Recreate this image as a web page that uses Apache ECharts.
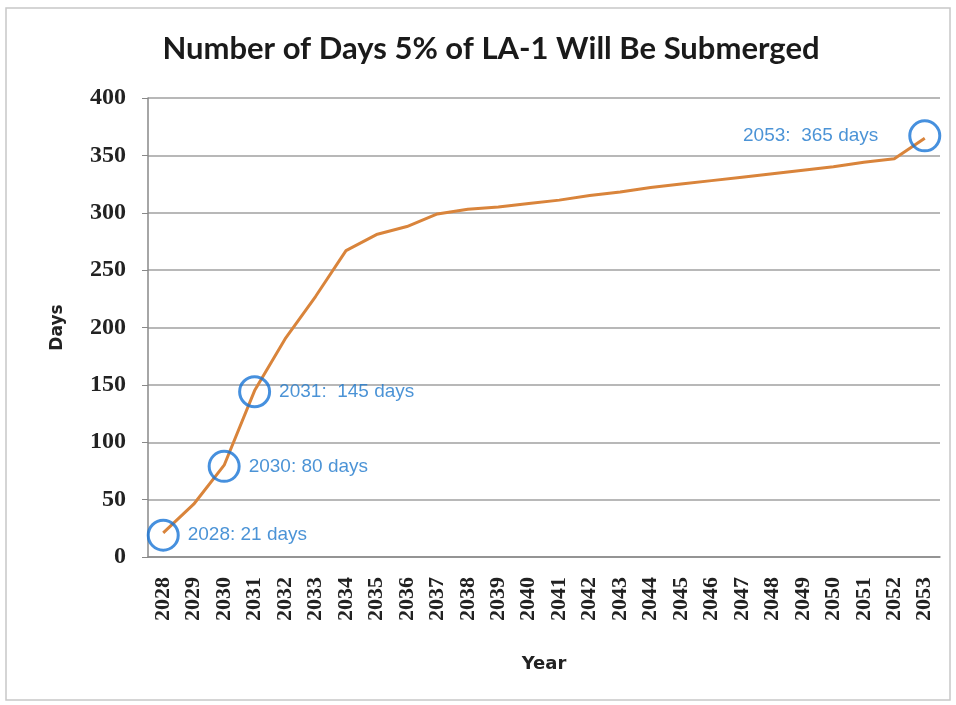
<!DOCTYPE html>
<html>
<head>
<meta charset="utf-8">
<script src="https://cdn.jsdelivr.net/npm/echarts@6/dist/echarts.min.js"></script>
<style>
  html, body { margin: 0; padding: 0; background: #fff; }
  #chart { width: 956px; height: 705px; }
</style>
</head>
<body>
<div id="chart"></div>
<script>
// years on the x axis
const years = ['2028', '2029', '2030', '2031', '2032', '2033', '2034', '2035', '2036',
    '2037', '2038', '2039', '2040', '2041', '2042', '2043', '2044', '2045', '2046',
    '2047', '2048', '2049', '2050', '2051', '2052', '2053'];
// days submerged
const days = [21, 46, 80, 145, 190, 227, 267, 281, 288, 299, 303, 305, 308, 311, 315,
    318, 322, 325, 328, 331, 334, 337, 340, 344, 347, 365];
// circled years and their notes
const noteYears = ['2028', '2030', '2031', '2053'];
const noteValues = [19, 79, 144, 367];
const noteTexts = ['2028: 21 days', '2030: 80 days', '2031:  145 days', '2053:  365 days'];

const chart = echarts.init(document.getElementById('chart'));

const noteData = noteYears.map((y, i) => ({
    value: [y, noteValues[i]],
    label: {
        formatter: noteTexts[i],
        position: i === 3 ? 'left' : 'right',
        distance: i === 3 ? 30 : 8
    }
}));

chart.setOption({
    animation: false,
    graphic: [{
        type: 'rect',
        shape: { x: 6, y: 8, width: 944, height: 692 },
        style: { fill: 'none', stroke: '#c8c8c8', lineWidth: 1.5 },
        silent: true
    }],
    title: {
        text: 'Number of Days 5% of LA-1 Will Be Submerged',
        left: 486,
        textAlign: 'center',
        top: 28,
        textStyle: {
            fontFamily: 'Lato',
            fontWeight: 'bold',
            fontSize: 31,
            color: '#1a1a1a'
        }
    },
    grid: { left: 148, right: 16, top: 98, bottom: 148 },
    xAxis: {
        type: 'category',
        data: years,
        boundaryGap: true,
        name: 'Year',
        nameLocation: 'middle',
        nameGap: 98,
        nameTextStyle: { fontFamily: 'DejaVu Sans', fontWeight: 'bold', fontSize: 18, color: '#222' },
        axisLine: { lineStyle: { color: '#888', width: 1.5 } },
        axisTick: { interval: 0, length: 6, lineStyle: { color: '#888' } },
        axisLabel: {
            interval: 0,
            rotate: 90,
            margin: 20,
            fontFamily: 'Liberation Serif',
            fontWeight: 'bold',
            fontSize: 22,
            color: '#222'
        }
    },
    yAxis: {
        type: 'value',
        min: 0,
        max: 400,
        interval: 50,
        name: 'Days',
        nameLocation: 'middle',
        nameGap: 82,
        nameRotate: 90,
        nameTextStyle: { fontFamily: 'DejaVu Sans', fontWeight: 'bold', fontSize: 17, color: '#222' },
        axisLine: { show: true, lineStyle: { color: '#888', width: 1.5 } },
        axisTick: { show: true, length: 6, lineStyle: { color: '#888' } },
        axisLabel: {
            margin: 22,
            fontFamily: 'Liberation Serif',
            fontWeight: 'bold',
            fontSize: 24,
            color: '#222'
        },
        splitLine: { lineStyle: { color: '#a0a0a0', width: 1.5 } }
    },
    series: [
        {
            name: 'Days',
            type: 'line',
            data: days,
            symbol: 'none',
            lineStyle: { color: '#d9843b', width: 3 },
            z: 2
        },
        {
            name: 'Notes',
            type: 'scatter',
            data: noteData,
            symbol: 'circle',
            symbolSize: 30,
            itemStyle: { color: 'rgba(0,0,0,0)', borderColor: '#1874d6', borderWidth: 3 },
            label: {
                show: true,
                color: '#1e78cc',
                fontFamily: 'Liberation Sans',
                fontSize: 19
            },
            z: 3
        }
    ]
});
</script>
</body>
</html>
